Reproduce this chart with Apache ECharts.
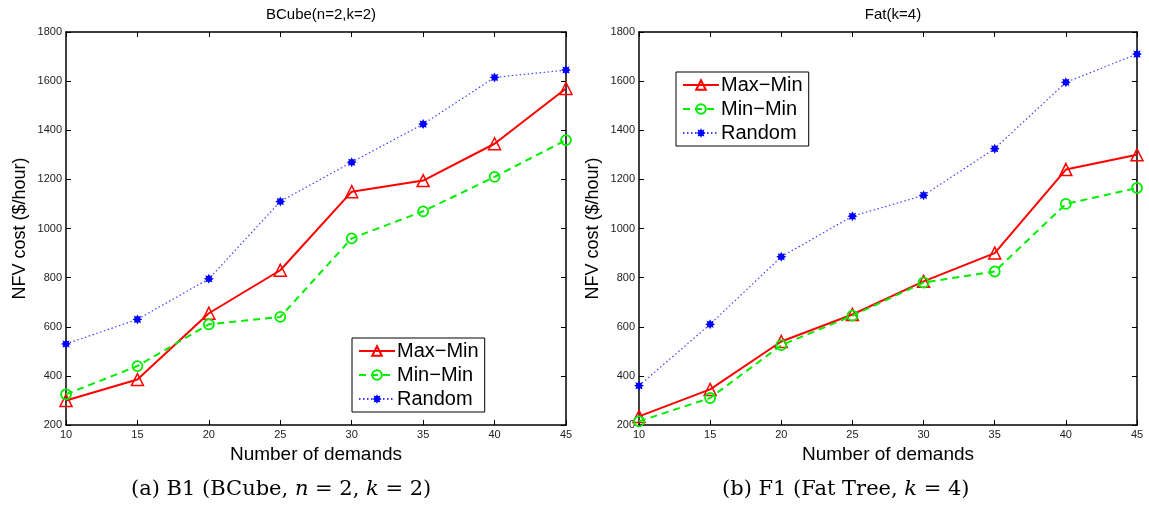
<!DOCTYPE html>
<html>
<head>
<meta charset="utf-8">
<script src="https://cdn.jsdelivr.net/npm/echarts@6/dist/echarts.min.js"></script>
<style>
html, body { margin: 0; padding: 0; background: #fff; }
#main { width: 1149px; height: 514px; }
</style>
</head>
<body>
<div id="main"></div>
<script>
// 数据
var demands = [10, 15, 20, 25, 30, 35, 40, 45];
var seriesNames = ['Max\u2212Min', 'Min\u2212Min', 'Random'];
var bcubeMaxMin = [300, 385, 655, 830, 1150, 1195, 1345, 1570];
var bcubeMinMin = [325, 440, 610, 640, 960, 1070, 1210, 1360];
var bcubeRandom = [530, 630, 795, 1110, 1270, 1425, 1615, 1645];
var fatMaxMin = [235, 345, 540, 650, 785, 900, 1240, 1300];
var fatMinMin = [215, 310, 525, 645, 780, 825, 1100, 1165];
var fatRandom = [360, 610, 885, 1050, 1135, 1325, 1595, 1710];

var font = 'Liberation Sans';
var starPath = 'path://M20,10L15.54,12.3L17.07,17.07L12.3,15.54L10,20L7.7,15.54L2.93,17.07L4.46,12.3L0,10L4.46,7.7L2.93,2.93L7.7,4.46L10,0L12.3,4.46L17.07,2.93L15.54,7.7Z';

function pairs(vals) {
    return vals.map(function(v, i) { return [demands[i], v]; });
}

function makeSeries(idx, maxMin, minMin, random) {
    return [{
        name : seriesNames[0],
        type : 'line',
        xAxisIndex : idx * 2,
        yAxisIndex : idx * 2,
        data : pairs(maxMin),
        symbol : 'triangle',
        symbolSize : 12,
        lineStyle : { color : '#ff0000', width : 2 },
        itemStyle : { color : 'rgba(255,255,255,0)', borderColor : '#ff0000', borderWidth : 1.5 },
        z : 3
    }, {
        name : seriesNames[1],
        type : 'line',
        xAxisIndex : idx * 2,
        yAxisIndex : idx * 2,
        data : pairs(minMin),
        symbol : 'circle',
        symbolSize : 10,
        lineStyle : { color : '#00ee00', width : 2, type : [7, 5] },
        itemStyle : { color : 'rgba(255,255,255,0)', borderColor : '#00ee00', borderWidth : 1.8 },
        z : 4
    }, {
        name : seriesNames[2],
        type : 'line',
        xAxisIndex : idx * 2,
        yAxisIndex : idx * 2,
        data : pairs(random),
        symbol : starPath,
        symbolSize : 10,
        lineStyle : { color : '#4040ff', width : 1.2, type : [1.5, 2.5] },
        itemStyle : { color : '#0000ff', borderWidth : 0 },
        z : 2
    }];
}

function xAxes(grid) {
    return [{
        type : 'value',
        gridIndex : grid,
        min : 10,
        max : 45,
        interval : 5,
        name : 'Number of demands',
        nameLocation : 'middle',
        nameGap : 18,
        nameTextStyle : { fontFamily : font, fontSize : 19, color : '#000' },
        axisLine : { lineStyle : { color : '#000', width : 1.5 } },
        axisTick : { inside : true, length : 5, lineStyle : { color : '#000' } },
        axisLabel : { fontFamily : font, fontSize : 11, color : '#222', margin : 4 },
        splitLine : { show : false }
    }, {
        type : 'value',
        gridIndex : grid,
        position : 'top',
        min : 10,
        max : 45,
        interval : 5,
        axisLine : { lineStyle : { color : '#000', width : 1.5 } },
        axisTick : { inside : true, length : 5, lineStyle : { color : '#000' } },
        axisLabel : { show : false },
        splitLine : { show : false }
    }];
}

function yAxes(grid) {
    return [{
        type : 'value',
        gridIndex : grid,
        min : 200,
        max : 1800,
        interval : 200,
        name : 'NFV cost ($/hour)',
        nameLocation : 'middle',
        nameGap : 37,
        nameTextStyle : { fontFamily : font, fontSize : 18, color : '#000' },
        axisLine : { lineStyle : { color : '#000', width : 1.5 } },
        axisTick : { inside : true, length : 5, lineStyle : { color : '#000' } },
        axisLabel : { fontFamily : font, fontSize : 11, color : '#222', margin : 4,
            formatter : function(v) { return String(v); } },
        splitLine : { show : false }
    }, {
        type : 'value',
        gridIndex : grid,
        position : 'right',
        min : 200,
        max : 1800,
        interval : 200,
        axisLine : { lineStyle : { color : '#000', width : 1.5 } },
        axisTick : { inside : true, length : 5, lineStyle : { color : '#000' } },
        axisLabel : { show : false },
        splitLine : { show : false }
    }];
}

function legendAt(left, top) {
    return {
        orient : 'vertical',
        left : left,
        top : top,
        data : seriesNames,
        selectedMode : false,
        backgroundColor : '#fff',
        borderColor : '#000',
        borderWidth : 1,
        padding : [3, 6, 3, 6],
        itemGap : 4,
        itemWidth : 36,
        itemHeight : 12,
        textStyle : { fontFamily : font, fontSize : 20, color : '#000', padding : [0, 0, 0, -3] }
    };
}

var capStyle = {
    n : { fontFamily : 'DejaVu Serif', fontSize : 21, fontStyle : 'italic', fill : '#000' }
};

var chart = echarts.init(document.getElementById('main'));
var option = {
    animation : false,
    backgroundColor : '#fff',
    title : [{
        text : 'BCube(n=2,k=2)',
        left : 316,
        textAlign : 'center',
        top : 2,
        textStyle : { fontFamily : font, fontSize : 15, fontWeight : 'normal', color : '#000' }
    }, {
        text : 'Fat(k=4)',
        left : 888,
        textAlign : 'center',
        top : 2,
        textStyle : { fontFamily : font, fontSize : 15, fontWeight : 'normal', color : '#000' }
    }],
    grid : [
        { left : 66, right : 583, top : 32, bottom : 89 },
        { left : 639, right : 12, top : 32, bottom : 89 }
    ],
    xAxis : xAxes(0).concat(xAxes(1)),
    yAxis : yAxes(0).concat(yAxes(1)),
    legend : [legendAt(352, 338), legendAt(676, 72)],
    series : makeSeries(0, bcubeMaxMin, bcubeMinMin, bcubeRandom)
        .concat(makeSeries(1, fatMaxMin, fatMinMin, fatRandom)),
    graphic : [{
        type : 'text',
        left : 131,
        top : 479,
        style : {
            text : '(a) B1 (BCube, {n|n} = 2, {n|k} = 2)',
            font : '21px "DejaVu Serif"',
            fill : '#000',
            rich : capStyle
        }
    }, {
        type : 'text',
        left : 722,
        top : 479,
        style : {
            text : '(b) F1 (Fat Tree, {n|k} = 4)',
            font : '21px "DejaVu Serif"',
            fill : '#000',
            rich : capStyle
        }
    }]
};
chart.setOption(option);
</script>
</body>
</html>
